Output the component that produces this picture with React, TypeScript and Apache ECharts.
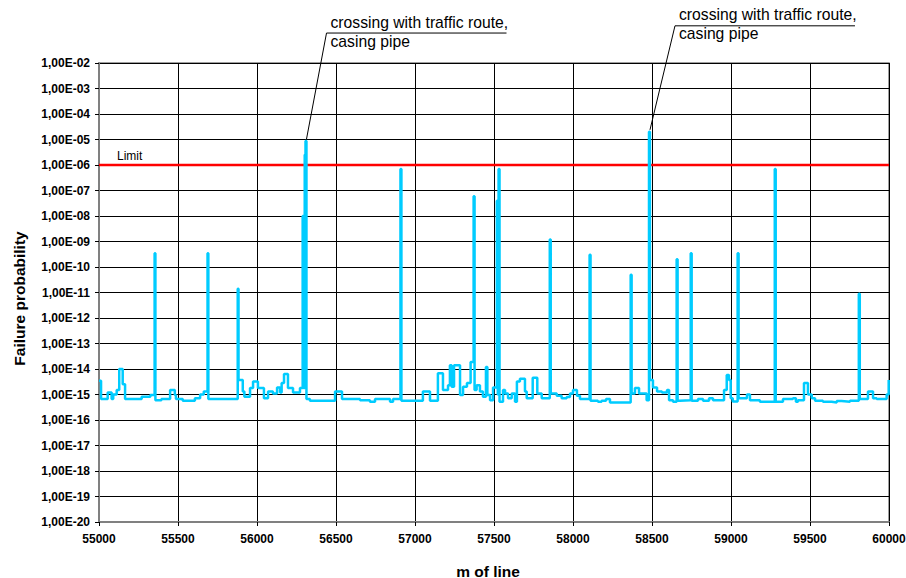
import React, { useEffect, useRef } from "react";
import * as echarts from "echarts";

// metres of line where each step starts
const mOfLine = [
  55000, 55013, 55055, 55080, 55090, 55112, 55128, 55150, 55165, 55270, 55325, 55352, 55357, 55395,
  55450, 55480, 55487, 55530, 55607, 55640, 55663, 55687, 55692, 55878, 55883, 55910, 55920, 55956,
  55975, 56006, 56044, 56070, 56101, 56127, 56146, 56156, 56171, 56196, 56228, 56272, 56289, 56295,
  56302, 56307, 56313, 56335, 56494, 56538, 56652, 56715, 56747, 56842, 56861, 56908, 56914, 57050,
  57095, 57145, 57177, 57209, 57221, 57232, 57247, 57285, 57304, 57329, 57352, 57371, 57377, 57390,
  57411, 57430, 57449, 57458, 57475, 57494, 57518, 57524, 57529, 57535, 57557, 57570, 57589, 57612,
  57633, 57645, 57664, 57696, 57707, 57745, 57774, 57802, 57853, 57859, 57897, 57928, 57960, 57981,
  58000, 58025, 58044, 58105, 58111, 58158, 58181, 58209, 58234, 58365, 58371, 58392, 58418, 58466,
  58481, 58487, 58506, 58532, 58563, 58595, 58608, 58633, 58656, 58662, 58677, 58745, 58751, 58791,
  58823, 58861, 58886, 58956, 58973, 58987, 58998, 59011, 59042, 59048, 59101, 59120, 59183, 59277,
  59283, 59329, 59392, 59411, 59424, 59462, 59487, 59511, 59532, 59582, 59637, 59669, 59700, 59753,
  59809, 59815, 59867, 59899, 59922, 59985, 59998, 60000,
];

// failure probability for each step
const failureProbability = [
  3.5e-15, 6.6e-16, 1.2e-15, 6.6e-16, 1.0e-15, 1.5e-15, 1.0e-14, 2.5e-15, 6.6e-16, 8.2e-16, 9.5e-16, 3.5e-10, 6.0e-16, 6.6e-16,
  1.5e-15, 9.5e-16, 6.6e-16, 5.7e-16, 7.2e-16, 1.0e-15, 1.3e-15, 3.5e-10, 6.6e-16, 1.4e-11, 3.7e-15, 1.3e-15, 8.2e-16, 1.8e-15,
  3.2e-15, 1.8e-15, 7.2e-16, 1.3e-15, 1.1e-15, 1.9e-15, 1.2e-15, 2.8e-15, 6.3e-15, 1.8e-15, 1.2e-15, 1.8e-15, 1.0e-8, 1.8e-15,
  2.5e-6, 8.7e-6, 6.6e-16, 5.7e-16, 1.3e-15, 6.6e-16, 6.0e-16, 5.2e-16, 6.6e-16, 5.2e-16, 6.6e-16, 7.0e-7, 5.7e-16, 1.3e-15,
  5.7e-16, 6.8e-15, 1.5e-15, 2.3e-15, 1.4e-14, 2.0e-15, 1.4e-14, 9.5e-16, 2.0e-15, 2.8e-15, 1.9e-14, 6.0e-8, 1.5e-15, 2.3e-15,
  1.3e-15, 8.2e-16, 1.2e-14, 9.5e-16, 6.0e-16, 1.9e-15, 4.0e-8, 1.0e-15, 7.0e-7, 5.2e-16, 1.5e-15, 1.1e-15, 7.2e-16, 1.1e-15,
  5.2e-16, 3.2e-15, 4.1e-15, 1.3e-15, 7.2e-16, 4.5e-15, 1.1e-15, 7.2e-16, 1.2e-9, 1.1e-15, 9.0e-16, 7.2e-16, 8.0e-16, 1.1e-15,
  1.5e-15, 9.0e-16, 6.6e-16, 3.0e-10, 5.7e-16, 5.2e-16, 5.7e-16, 6.6e-16, 4.9e-16, 5.0e-11, 1.1e-15, 1.8e-15, 1.1e-15, 6.0e-16,
  2.0e-5, 3.7e-15, 1.9e-15, 1.3e-15, 1.2e-15, 1.5e-15, 6.0e-16, 5.2e-16, 2.0e-10, 5.7e-16, 6.0e-16, 3.5e-10, 5.7e-16, 6.6e-16,
  5.7e-16, 7.2e-16, 6.0e-16, 1.5e-15, 5.8e-15, 3.7e-15, 7.2e-16, 5.3e-16, 3.5e-10, 7.2e-16, 1.0e-15, 6.0e-16, 5.2e-16, 7.0e-7,
  5.2e-16, 6.6e-16, 7.2e-16, 5.2e-16, 6.0e-16, 2.8e-15, 1.0e-15, 7.2e-16, 5.7e-16, 5.2e-16, 4.9e-16, 5.5e-16, 5.2e-16, 5.7e-16,
  9.0e-12, 6.6e-16, 1.3e-15, 7.2e-16, 6.6e-16, 1.0e-15, 3.7e-15, 3.7e-15,
];

const xMin = 55000;
const xMax = 60000;
const xStep = 500;
const yMinExp = -20;
const yMaxExp = -2;
const limitValue = 1e-6;
const limitLabel = "Limit";
const annotationText = ["crossing with traffic route,", "casing pipe"];
const annotatedPeakM = [56307, 58481];
const annotatedPeakP = [8.7e-6, 2.0e-5];

const FONT = '"Liberation Sans", Arial, Helvetica, sans-serif';

function fmtY(v: number): string {
  const e = Math.round(Math.log10(v));
  const sign = e < 0 ? "-" : "+";
  return `1,00E${sign}${String(Math.abs(e)).padStart(2, "0")}`;
}

export default function App() {
  const ref = useRef<HTMLDivElement>(null);
  useEffect(() => {
    if (!ref.current) return;
    const chart = echarts.init(ref.current, null, { renderer: "svg" });
    const data = mOfLine.map((m, i) => [m, failureProbability[i]]);
    const limitData = [
      [xMin, limitValue],
      [xMax, limitValue],
    ];
    chart.setOption({
      animation: false,
      backgroundColor: "#ffffff",
      grid: {
        left: 99,
        right: 17,
        top: 63,
        bottom: 56,
        containLabel: false,
        outerBoundsMode: "none",
        show: true,
        borderColor: "#808080",
        borderWidth: 1.5,
        backgroundColor: "transparent",
      },
      xAxis: {
        type: "value",
        min: xMin,
        max: xMax,
        interval: xStep,
        axisLine: { show: true, lineStyle: { color: "#808080", width: 2 } },
        axisTick: { show: true, length: 4, lineStyle: { color: "#000" } },
        axisLabel: {
          formatter: (v: number) => String(v),
          fontFamily: FONT,
          fontWeight: "bold",
          fontSize: 12,
          color: "#000",
          margin: 11,
        },
        splitLine: { show: true, lineStyle: { color: "#000", width: 1 } },
        name: "m of line",
        nameLocation: "middle",
        nameGap: 41,
        nameTextStyle: {
          fontFamily: FONT,
          fontWeight: "bold",
          fontSize: 15.5,
          color: "#000",
          padding: [0, 12, 0, 0],
        },
      },
      yAxis: {
        type: "log",
        logBase: 10,
        min: Math.pow(10, yMinExp),
        max: Math.pow(10, yMaxExp),
        interval: 1,
        axisLine: { show: true, lineStyle: { color: "#808080", width: 2 } },
        axisTick: { show: true, length: 4, lineStyle: { color: "#000" } },
        axisLabel: {
          formatter: fmtY,
          fontFamily: FONT,
          fontWeight: "bold",
          fontSize: 12,
          color: "#000",
          margin: 9,
        },
        splitLine: { show: true, lineStyle: { color: "#000", width: 1 } },
        name: "Failure probability",
        nameLocation: "middle",
        nameGap: 72,
        nameTextStyle: {
          fontFamily: FONT,
          fontWeight: "bold",
          fontSize: 15.5,
          color: "#000",
          padding: [0, 12, 0, 0],
        },
      },
      series: [
        {
          name: "Limit",
          type: "line",
          data: limitData,
          showSymbol: false,
          symbol: "none",
          silent: true,
          lineStyle: { color: "#FF0000", width: 2.5 },
          z: 2,
        },
        {
          name: "Failure probability",
          type: "line",
          step: "end",
          data,
          showSymbol: false,
          symbol: "none",
          lineStyle: { color: "#00CCFF", width: 2.5 },
          z: 3,
        },
      ],
    });

    const limitPx = chart.convertToPixel({ gridIndex: 0 }, [xMin, limitValue]) as number[];
    const graphics: any[] = [
      {
        type: "text",
        x: limitPx[0] + 18,
        y: limitPx[1] - 9,
        style: { text: limitLabel, font: `12px ${FONT}`, fill: "#000", textVerticalAlign: "middle" },
      },
    ];
    const textDx = [24, 29];
    const textDy = [-117, -115];
    annotatedPeakM.forEach((m, i) => {
      const p = chart.convertToPixel({ gridIndex: 0 }, [m, annotatedPeakP[i]]) as number[];
      const px = p[0] + 1;
      const py = p[1] - 2;
      const lineX1 = px + textDx[i] - 4;
      const lineY = py + textDy[i] + 11;
      graphics.push(
        {
          type: "line",
          shape: { x1: px, y1: py, x2: lineX1, y2: lineY },
          style: { stroke: "#000", lineWidth: 1 },
        },
        {
          type: "line",
          shape: { x1: lineX1, y1: lineY, x2: lineX1 + 180, y2: lineY },
          style: { stroke: "#000", lineWidth: 1 },
        },
        {
          type: "text",
          x: px + textDx[i],
          y: py + textDy[i],
          style: { text: annotationText[0], font: `15.7px ${FONT}`, fill: "#000", textVerticalAlign: "middle" },
        },
        {
          type: "text",
          x: px + textDx[i],
          y: py + textDy[i] + 19,
          style: { text: annotationText[1], font: `15.7px ${FONT}`, fill: "#000", textVerticalAlign: "middle" },
        }
      );
    });
    chart.setOption({ graphic: graphics });
    return () => chart.dispose();
  }, []);
  return (
    <div
      ref={ref}
      style={{ position: "fixed", left: 0, top: 0, width: 906, height: 578, background: "#fff" }}
    />
  );
}
